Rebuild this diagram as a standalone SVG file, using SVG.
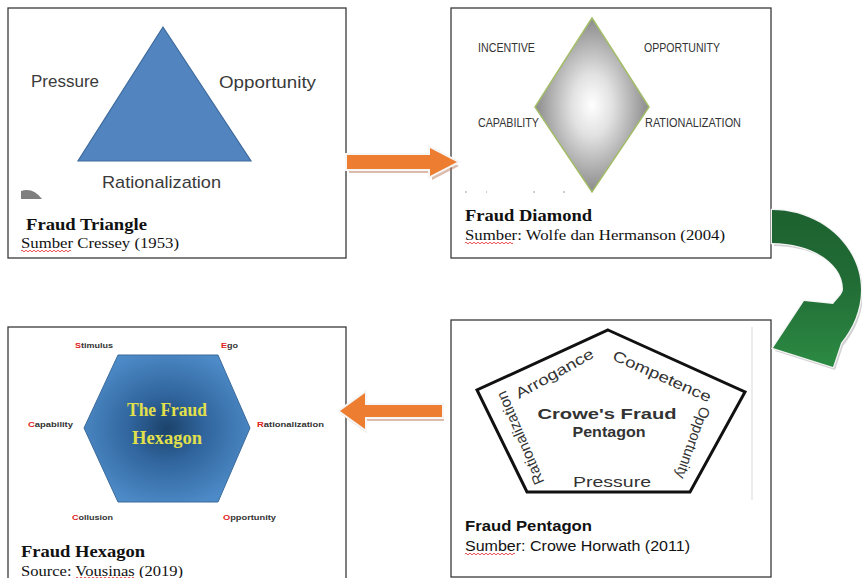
<svg xmlns="http://www.w3.org/2000/svg" width="862" height="578" viewBox="0 0 862 578">
<style>
.box{fill:#fff;stroke:#3a3a3a;stroke-width:1.3}
.lbl{font-family:"Liberation Sans",Arial,sans-serif;font-size:17px;fill:#3a3a3a}
.cap{font-family:"Liberation Serif","Times New Roman",serif;font-size:15px;fill:#111}
.capb{font-family:"Liberation Serif","Times New Roman",serif;font-size:17px;font-weight:bold;fill:#111}
.sans{font-family:"Liberation Sans",Arial,sans-serif;fill:#111}
.dia{font-family:"Liberation Sans",Arial,sans-serif;font-size:12px;fill:#333}
.hex{font-family:"Liberation Sans",Arial,sans-serif;font-size:8px;font-weight:bold;fill:#333}
.red{fill:#e02020}
.pen{font-family:"Liberation Sans",Arial,sans-serif;fill:#333}
.wavy{fill:none;stroke:#e23a3a;stroke-width:0.9}
.orange{fill:#ed7d31;stroke:#f6f6f6;stroke-width:4;paint-order:stroke;stroke-linejoin:miter}
.oshadow{fill:#b9775a;opacity:0.5}
</style>
<defs>
<radialGradient id="gDia" cx="0.5" cy="0.5" r="0.5">
<stop offset="0" stop-color="#ffffff"/>
<stop offset="0.35" stop-color="#e2e2e2"/>
<stop offset="1" stop-color="#8a8a8a"/>
</radialGradient>
<radialGradient id="gHex" cx="0.5" cy="0.5" r="0.55">
<stop offset="0" stop-color="#1b426a"/>
<stop offset="0.4" stop-color="#30649c"/>
<stop offset="1" stop-color="#4d8bc8"/>
</radialGradient>
<linearGradient id="gGreen" x1="0" y1="0" x2="0" y2="1">
<stop offset="0" stop-color="#1d6230"/>
<stop offset="0.45" stop-color="#216b35"/>
<stop offset="1" stop-color="#2c8b43"/>
</linearGradient>
</defs>

<g id="node-triangle">
<rect class="box" x="8" y="8" width="338" height="250"/>
<polygon points="163,27 78,161 251,161" fill="#5285c0" stroke="#3d6a9c" stroke-width="1.2"/>
<text class="lbl" x="31" y="87" textLength="68" lengthAdjust="spacingAndGlyphs">Pressure</text>
<text class="lbl" x="219" y="88" textLength="97" lengthAdjust="spacingAndGlyphs">Opportunity</text>
<text class="lbl" x="102" y="188" textLength="119" lengthAdjust="spacingAndGlyphs">Rationalization</text>
<path d="M21,199 L21,191 Q33,187 42,199 Z" fill="#7f7f7f"/>
<text class="capb" x="26" y="230" textLength="121" lengthAdjust="spacingAndGlyphs">Fraud Triangle</text>
<text class="cap" x="21" y="248" textLength="158" lengthAdjust="spacingAndGlyphs">Sumber Cressey (1953)</text>
<path class="wavy" d="M21,251 q1,-1.6 2,0 t2,0 t2,0 t2,0 t2,0 t2,0 t2,0 t2,0 t2,0 t2,0 t2,0 t2,0 t2,0 t2,0 t2,0 t2,0 t2,0 t2,0 t2,0 t2,0 t2,0 t2,0 t2,0 t2,0 t2,0"/>
</g>

<g id="node-diamond">
<rect class="box" x="451" y="8" width="320" height="250"/>
<polygon points="592,18 649,107 592,192 535,107" fill="url(#gDia)" stroke="#a3bd6a" stroke-width="1.5"/>
<text class="dia" x="478" y="52" textLength="57" lengthAdjust="spacingAndGlyphs">INCENTIVE</text>
<text class="dia" x="644" y="52" textLength="76" lengthAdjust="spacingAndGlyphs">OPPORTUNITY</text>
<text class="dia" x="478" y="127" textLength="61" lengthAdjust="spacingAndGlyphs">CAPABILITY</text>
<text class="dia" x="645" y="127" textLength="96" lengthAdjust="spacingAndGlyphs">RATIONALIZATION</text>
<path d="M465,192 h2 M486,192 h1 M533,192 h2 M563,192 h2" stroke="#9a9a9a" stroke-width="1"/>
<text class="capb" x="465" y="221" textLength="127" lengthAdjust="spacingAndGlyphs">Fraud Diamond</text>
<text class="cap" x="465" y="240" textLength="260" lengthAdjust="spacingAndGlyphs">Sumber: Wolfe dan Hermanson (2004)</text>
<path class="wavy" d="M465,243 q1,-1.6 2,0 t2,0 t2,0 t2,0 t2,0 t2,0 t2,0 t2,0 t2,0 t2,0 t2,0 t2,0 t2,0 t2,0 t2,0 t2,0 t2,0 t2,0 t2,0 t2,0 t2,0 t2,0 t2,0 t2,0"/>
</g>

<g id="node-hexagon">
<rect class="box" x="8" y="327" width="338" height="260"/>
<polygon points="118,355 218,355 250,428 218,502 118,502 84,428" fill="url(#gHex)" stroke="#3b6b9b" stroke-width="1"/>
<text x="167" y="416" text-anchor="middle" font-family="'Liberation Serif','Times New Roman',serif" font-size="18" font-weight="bold" fill="#e2e04a" textLength="80" lengthAdjust="spacingAndGlyphs">The Fraud</text>
<text x="167" y="444" text-anchor="middle" font-family="'Liberation Serif','Times New Roman',serif" font-size="18" font-weight="bold" fill="#e2e04a" textLength="70" lengthAdjust="spacingAndGlyphs">Hexagon</text>
<text class="hex" x="75" y="348" textLength="38" lengthAdjust="spacingAndGlyphs"><tspan class="red">S</tspan>timulus</text>
<text class="hex" x="221" y="348" textLength="17" lengthAdjust="spacingAndGlyphs"><tspan class="red">E</tspan>go</text>
<text class="hex" x="28" y="427" textLength="45" lengthAdjust="spacingAndGlyphs"><tspan class="red">C</tspan>apability</text>
<text class="hex" x="257" y="427" textLength="67" lengthAdjust="spacingAndGlyphs"><tspan class="red">R</tspan>ationalization</text>
<text class="hex" x="72" y="520" textLength="41" lengthAdjust="spacingAndGlyphs"><tspan class="red">C</tspan>ollusion</text>
<text class="hex" x="223" y="520" textLength="53" lengthAdjust="spacingAndGlyphs"><tspan class="red">O</tspan>pportunity</text>
<text class="capb" x="21" y="557" textLength="124" lengthAdjust="spacingAndGlyphs">Fraud Hexagon</text>
<text class="cap" x="21" y="576" textLength="162" lengthAdjust="spacingAndGlyphs">Source: Vousinas (2019)</text>
<path class="wavy" d="M76,578 q1,-1.6 2,0 t2,0 t2,0 t2,0 t2,0 t2,0 t2,0 t2,0 t2,0 t2,0 t2,0 t2,0 t2,0 t2,0 t2,0 t2,0 t2,0 t2,0 t2,0 t2,0 t2,0 t2,0 t2,0 t2,0 t2,0 t2,0 t2,0 t2,0 t2,0"/>
</g>

<g id="node-pentagon">
<rect class="box" x="451" y="320" width="320" height="257" stroke="#555" stroke-width="1.6"/>
<line x1="752" y1="327" x2="752" y2="500" stroke="#ececec" stroke-width="2"/>
<polygon points="608,330 745,392 690,492 527,492 477,390" fill="none" stroke="#111" stroke-width="3" stroke-linejoin="miter"/>
<text class="pen" x="607" y="419" text-anchor="middle" font-size="15" font-weight="bold" textLength="139" lengthAdjust="spacingAndGlyphs">Crowe's Fraud</text>
<text class="pen" x="609" y="437" text-anchor="middle" font-size="15" font-weight="bold" textLength="73" lengthAdjust="spacingAndGlyphs">Pentagon</text>
<text class="pen" x="612" y="487" text-anchor="middle" font-size="15" fill="#444" textLength="78" lengthAdjust="spacingAndGlyphs">Pressure</text>
<text class="pen" transform="translate(557,378) rotate(-29)" text-anchor="middle" font-size="15" textLength="87" lengthAdjust="spacingAndGlyphs">Arrogance</text>
<text class="pen" transform="translate(660,381) rotate(24)" text-anchor="middle" font-size="15" textLength="106" lengthAdjust="spacingAndGlyphs">Competence</text>
<text class="pen" transform="translate(525,436) rotate(-113)" text-anchor="middle" font-size="15" textLength="100" lengthAdjust="spacingAndGlyphs">Rationalization</text>
<text class="pen" transform="translate(688,441) rotate(110)" text-anchor="middle" font-size="15" textLength="75" lengthAdjust="spacingAndGlyphs">Opportunity</text>
<text class="sans" x="465" y="531" font-size="15" font-weight="bold" textLength="127" lengthAdjust="spacingAndGlyphs">Fraud Pentagon</text>
<text class="sans" x="465" y="551" font-size="14" fill="#222" textLength="225" lengthAdjust="spacingAndGlyphs">Sumber: Crowe Horwath (2011)</text>
<path class="wavy" d="M465,554 q1,-1.6 2,0 t2,0 t2,0 t2,0 t2,0 t2,0 t2,0 t2,0 t2,0 t2,0 t2,0 t2,0 t2,0 t2,0 t2,0 t2,0 t2,0 t2,0 t2,0 t2,0 t2,0 t2,0 t2,0 t2,0 t2,0"/>
</g>

<g id="connectors">
<path class="oshadow" d="M349,159 L432,159 L432,152 L459,166 L432,180 L432,173 L349,173 Z"/>
<path class="orange" d="M347,155 L430,155 L430,148 L457,162 L430,176 L430,169 L347,169 Z"/>
<path d="M774,213 C823,213 863,249 863,293 C863,313 855,331 843,346 L835,370 L775,351 L806,304 L835,307 C841,300 846,296 846,292 C846,266 814,246 774,246 Z" fill="#9a9a9a" opacity="0.45"/>
<path d="M772,210 C821,210 861,246 861,290 C861,310 853,328 841,343 L833,367 L773,348 L804,301 L833,304 C839,297 843,293 843,289 C843,263 811,243 772,243 Z" fill="url(#gGreen)" stroke="#f4f4f4" stroke-width="2.5" paint-order="stroke"/>
<path class="oshadow" d="M444,409 L367,409 L367,397 L342,415 L367,433 L367,421 L444,421 Z"/>
<path class="orange" d="M442,405 L365,405 L365,393 L340,411 L365,429 L365,417 L442,417 Z"/>
</g>
</svg>
